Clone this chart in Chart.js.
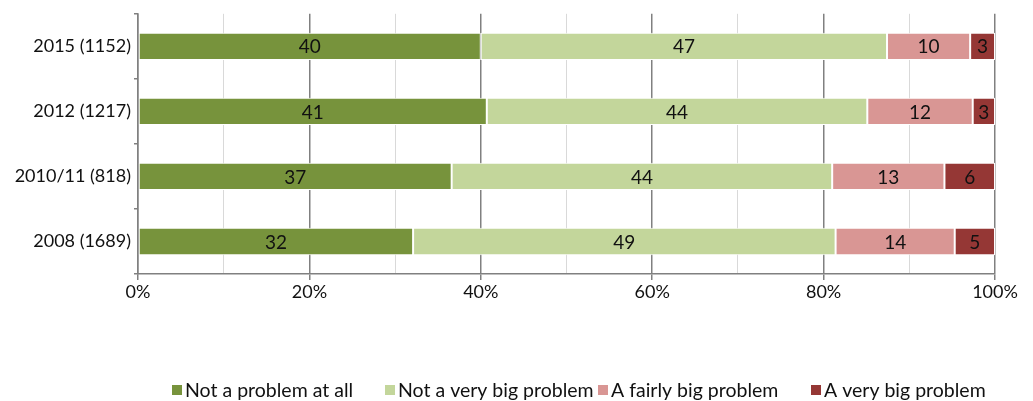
<!DOCTYPE html>
<html>
<head>
<meta charset="utf-8">
<script src="https://cdn.jsdelivr.net/npm/chart.js@4"></script>
<style>
  html, body { margin: 0; padding: 0; background: #fff; }
  #wrap { width: 1033px; height: 401px; }
</style>
</head>
<body>
<div id="wrap"><canvas id="chart"></canvas></div>
<script>
// values (percent of respondents)
const categories = ['2015 (1152)', '2012 (1217)', '2010/11 (818)', '2008 (1689)'];
const seriesNames = ['Not a problem at all', 'Not a very big problem', 'A fairly big problem', 'A very big problem'];
const notAProblem = [40.0, 40.7, 36.6, 32.1];
const notVeryBig = [47.4, 44.4, 44.4, 49.3];
const fairlyBig = [9.7, 12.3, 13.1, 13.9];
const veryBig = [2.9, 2.6, 5.9, 4.7];
const xTickLabels = [0, 20, 40, 60, 80, 100];

const colors = ['#77933c', '#c3d69b', '#d99694', '#953735'];
const textFont = { family: 'Lato', size: 18 };
const legendFont = '19.5px Lato';
const textColor = '#111';
const axisGrey = '#808080';

const isMajor = c => c.tick && c.tick.value % 20 === 0;

// numbers in the middle of each segment
const valueLabels = {
  id: 'valueLabels',
  afterDatasetsDraw(chart) {
    const ctx = chart.ctx;
    ctx.save();
    ctx.font = '19px Lato';
    ctx.fillStyle = textColor;
    ctx.textAlign = 'center';
    ctx.textBaseline = 'middle';
    chart.data.datasets.forEach((ds, i) => {
      chart.getDatasetMeta(i).data.forEach((bar, j) => {
        ctx.fillText(Math.round(ds.data[j]), (bar.x + bar.base) / 2, bar.y + 1);
      });
    });
    ctx.restore();
  }
};

// legend with equal slots, like the original
const slotLegend = {
  id: 'slotLegend',
  afterDraw(chart) {
    const ctx = chart.ctx;
    const left = 172, slot = 213, y = 390;
    ctx.save();
    ctx.font = legendFont;
    ctx.textBaseline = 'middle';
    chart.data.datasets.forEach((ds, i) => {
      const x = left + i * slot;
      ctx.fillStyle = ds.backgroundColor;
      ctx.fillRect(x, y - 5, 10, 10);
      ctx.fillStyle = textColor;
      ctx.fillText(ds.label, x + 13, y + 1);
    });
    ctx.restore();
  }
};

const seriesData = [notAProblem, notVeryBig, fairlyBig, veryBig];

new Chart(document.getElementById('chart'), {
  type: 'bar',
  data: {
    labels: categories,
    datasets: seriesData.map((d, i) => ({
      label: seriesNames[i],
      data: d,
      backgroundColor: colors[i],
      borderColor: '#fff',
      borderWidth: 1,
      borderSkipped: false,
      categoryPercentage: 1,
      barPercentage: 0.42
    }))
  },
  options: {
    indexAxis: 'y',
    responsive: true,
    maintainAspectRatio: false,
    animation: false,
    layout: { padding: { top: 12, right: 38, bottom: 99, left: 0 } },
    plugins: {
      legend: { display: false },
      tooltip: { enabled: false }
    },
    scales: {
      x: {
        stacked: true,
        min: 0,
        max: 100,
        border: { color: axisGrey, width: 1.5 },
        grid: {
          color: c => isMajor(c) ? axisGrey : '#d9d9d9',
          lineWidth: c => isMajor(c) ? 1.5 : 1,
          tickColor: c => isMajor(c) ? axisGrey : 'rgba(0,0,0,0)',
          tickLength: 6
        },
        ticks: {
          stepSize: 10,
          autoSkip: false,
          maxRotation: 0,
          padding: 1,
          font: textFont,
          color: textColor,
          callback: v => xTickLabels.includes(v) ? v + '%' : ''
        },
        afterFit: s => { s.height = 28; }
      },
      y: {
        stacked: true,
        border: { color: axisGrey, width: 1.5 },
        grid: { drawOnChartArea: false, tickLength: 4, color: axisGrey, lineWidth: 1.5 },
        ticks: { padding: 3, font: textFont, color: textColor },
        afterFit: s => { s.width = 138; }
      }
    }
  },
  plugins: [valueLabels, slotLegend]
});
</script>
</body>
</html>
